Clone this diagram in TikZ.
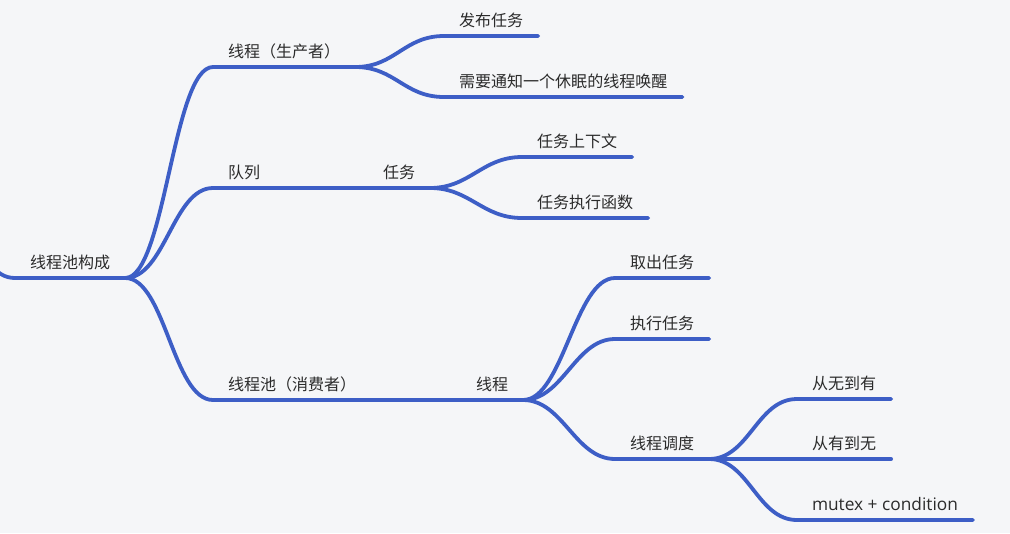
\documentclass[tikz,border=0pt]{standalone}
\usepackage{fontspec}
\setmainfont{Noto Sans CJK SC}
\newfontfamily\latinfont{Open Sans}
\definecolor{paper}{HTML}{F5F6F8}
\definecolor{branchblue}{HTML}{3D5EC6}
\definecolor{ink}{HTML}{2B2B2B}
\tikzset{
    topic/.style={anchor=south west, inner xsep=0.375cm, inner ysep=0.24cm, outer sep=0pt, text depth=0pt, text=ink, font=\fontsize{11.4}{14}\selectfont},
    wire/.style={draw=branchblue, line width=2.7pt, line cap=round},
    branch/.style={wire, to path={.. controls +(40,0) and +(-40,0) .. (\tikztotarget) \tikztonodes}}
}
\begin{document}
\begin{tikzpicture}[x=0.025cm,y=-0.025cm]
    \useasboundingbox (0,0) rectangle (1010,533);
    \fill[paper] (0,0) rectangle (1010,533);
    \clip (0,0) rectangle (1010,533);
    \coordinate (up) at (-60,200);
    \node[topic] (root) at (15,278) {线程池构成};
    \node[topic] (producer) at (213,67) {线程（生产者）};
    \node[topic] (publish) at (444,36) {发布任务};
    \node[topic] (notify) at (444,97) {需要通知一个休眠的线程唤醒};
    \node[topic] (queue) at (213,188) {队列};
    \node[topic] (task) at (368,188) {任务};
    \node[topic] (context) at (522,157) {任务上下文};
    \node[topic] (func) at (522,218) {任务执行函数};
    \node[topic] (consumer) at (213,400) {线程池（消费者）};
    \node[topic] (worker) at (461,400) {线程};
    \node[topic] (fetch) at (615,278) {取出任务};
    \node[topic] (run) at (615,339) {执行任务};
    \node[topic] (dispatch) at (615,459) {线程调度};
    \node[topic] (grow) at (797,399) {从无到有};
    \node[topic] (shrink) at (797,459) {从有到无};
    \node[topic] (lock) at (797,520) {\latinfont\fontsize{12.3}{14}\selectfont mutex + condition};
    \draw[branch] (up) to (root.south west) -- (root.south east);
    \draw[branch] (root.south east) to (producer.south west) -- (producer.south east);
    \draw[branch] (root.south east) to (queue.south west) -- (queue.south east);
    \draw[branch] (root.south east) to (consumer.south west) -- (consumer.south east);
    \draw[branch] (producer.south east) to (publish.south west) -- (publish.south east);
    \draw[branch] (producer.south east) to (notify.south west) -- (notify.south east);
    \draw[branch] (queue.south east) to (task.south west) -- (task.south east);
    \draw[branch] (task.south east) to (context.south west) -- (context.south east);
    \draw[branch] (task.south east) to (func.south west) -- (func.south east);
    \draw[branch] (consumer.south east) to (worker.south west) -- (worker.south east);
    \draw[branch] (worker.south east) to (fetch.south west) -- (fetch.south east);
    \draw[branch] (worker.south east) to (run.south west) -- (run.south east);
    \draw[branch] (worker.south east) to (dispatch.south west) -- (dispatch.south east);
    \draw[branch] (dispatch.south east) to (grow.south west) -- (grow.south east);
    \draw[branch] (dispatch.south east) to (shrink.south west) -- (shrink.south east);
    \draw[branch] (dispatch.south east) to (lock.south west) -- (lock.south east);
\end{tikzpicture}
\end{document}
